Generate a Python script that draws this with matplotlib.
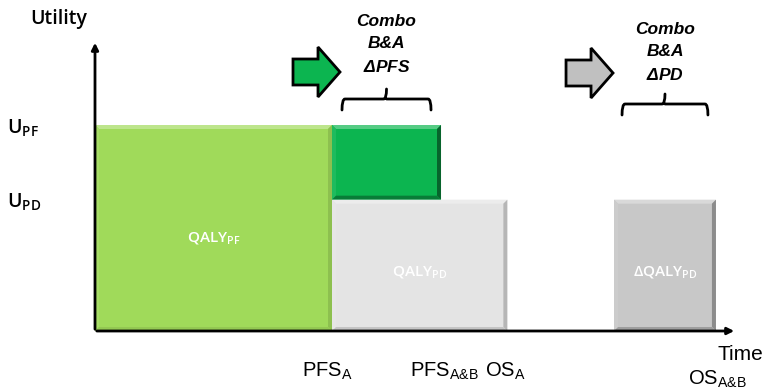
import matplotlib
matplotlib.use('Agg')
import matplotlib.pyplot as plt
from matplotlib.patches import Rectangle, Polygon, PathPatch
from matplotlib.path import Path
from matplotlib.colors import to_rgb

plt.rcParams['mathtext.default'] = 'regular'

# time points (arbitrary units) and utility levels
t_pfs_a = 10.0
t_pfs_ab = 14.6
t_os_a = 17.4
t_delta_start = 21.9
t_os_ab = 26.2
u_pf = 0.80
u_pd = 0.51

# blocks: (x0, x1, base, top, colour, label, label height)
blocks = [
    (0.0, t_pfs_a, 0.0, u_pf, '#a0da5a', r'QALY$_{PF}$', 0.36),
    (t_pfs_a, t_pfs_ab, u_pd, u_pf, '#0cb550', None, None),
    (t_pfs_a, t_os_a, 0.0, u_pd, '#e4e4e4', r'QALY$_{PD}$', 0.23),
    (t_delta_start, t_os_ab, 0.0, u_pd, '#c8c8c8', r'$\Delta$QALY$_{PD}$', 0.23),
]

x_ticks = [t_pfs_a, t_pfs_ab, t_os_a, t_os_ab]
x_tick_labels = [r'PFS$_{A}$', r'PFS$_{A&B}$', r'OS$_{A}$', r'OS$_{A&B}$']
y_ticks = [u_pf, u_pd]
y_tick_labels = [r'U$_{PF}$', r'U$_{PD}$']

# pixel scale of one unit on each axis
kx = 23.7
ky = 257.5

fig = plt.figure(figsize=(7.69, 3.90), dpi=100)
ax = fig.add_axes([0, 0, 1, 1])
ax.set_xlim(-95 / kx, (769 - 95) / kx)
ax.set_ylim(-59 / ky, 331 / ky)
ax.axis('off')


def shade(c, f):
    r, g, b = to_rgb(c)
    if f > 0:
        return (r + (1 - r) * f, g + (1 - g) * f, b + (1 - b) * f)
    return (r * (1 + f), g * (1 + f), b * (1 + f))


def block(x0, x1, y0, y1, color, dark):
    bx = 4 / kx
    by = 4 / ky
    ax.add_patch(Rectangle((x0, y0), x1 - x0, y1 - y0, facecolor=color,
                           edgecolor='none', zorder=2))
    # bevelled edges
    top = [(x0, y1), (x1, y1), (x1 - bx, y1 - by), (x0 + bx, y1 - by)]
    left = [(x0, y0), (x0, y1), (x0 + bx, y1 - by), (x0 + bx, y0 + by)]
    right = [(x1, y0), (x1, y1), (x1 - bx, y1 - by), (x1 - bx, y0 + by)]
    bottom = [(x0, y0), (x1, y0), (x1 - bx, y0 + by), (x0 + bx, y0 + by)]
    for pts, f in [(top, 0.3), (left, 0.08), (right, -dark), (bottom, -dark * 0.7)]:
        ax.add_patch(Polygon(pts, closed=True, facecolor=shade(color, f),
                             edgecolor='none', zorder=3))


darkness = [0.12, 0.45, 0.2, 0.3]
for (x0, x1, y0, y1, col, lab, ly), d in zip(blocks, darkness):
    block(x0, x1, y0, y1, col, d)
    if lab:
        ax.text((x0 + x1) / 2, ly, lab, color='white', fontsize=11,
                family='Open Sans', fontweight='semibold',
                ha='center', va='center', zorder=5)

# axes with arrow heads
ax.annotate('', xy=(0, 291 / ky), xytext=(0, -1 / ky),
            arrowprops=dict(arrowstyle='-|>', color='black', lw=2,
                            mutation_scale=10), zorder=6)
ax.annotate('', xy=(642 / kx, 0), xytext=(-1 / kx, 0),
            arrowprops=dict(arrowstyle='-|>', color='black', lw=2,
                            mutation_scale=10), zorder=6)

ax.text(-65 / kx, 312 / ky, 'Utility', fontsize=14, family='Open Sans',
        fontweight='semibold', ha='left', va='center')
ax.text(t_os_ab + 2 / kx, -23 / ky, 'Time', fontsize=15,
        family='Liberation Sans', ha='left', va='center')

for y, lab in zip(y_ticks, y_tick_labels):
    ax.text(-88 / kx, y - 3 / ky, lab, fontsize=14, family='Open Sans',
            fontweight='semibold', ha='left', va='center')

# tick labels under the time axis, offsets in pixels from each tick
x_label_dx = [-30, -31, -22, -28]
x_label_dy = [-40, -40, -40, -48]
for x, lab, dx, dy in zip(x_ticks, x_tick_labels, x_label_dx, x_label_dy):
    ax.text(x + dx / kx, dy / ky, lab, fontsize=14.5,
            family='Liberation Sans', ha='left', va='center')


def brace(x0, x1, yb, color='black'):
    h = 11 / ky
    tip = 10 / ky
    xm = (x0 + x1) / 2
    r = 3 / kx
    verts = [(x0, yb - h), (x0, yb), (x0 + r, yb),
             (xm - r, yb), (xm, yb), (xm, yb + tip),
             (xm, yb), (xm + r, yb), (x1 - r, yb),
             (x1, yb), (x1, yb - h)]
    codes = [Path.MOVETO, Path.CURVE3, Path.CURVE3,
             Path.LINETO, Path.CURVE3, Path.LINETO,
             Path.MOVETO, Path.CURVE3, Path.LINETO,
             Path.CURVE3, Path.CURVE3]
    ax.add_patch(PathPatch(Path(verts, codes), facecolor='none',
                           edgecolor=color, lw=2, capstyle='round'))


def block_arrow(x_tip, y_mid, color):
    L = 47 / kx
    head = 22 / kx
    bh = 13 / ky
    hh = 25 / ky
    xs = x_tip - L
    pts = [(xs, y_mid - bh), (x_tip - head, y_mid - bh), (x_tip - head, y_mid - hh),
           (x_tip, y_mid), (x_tip - head, y_mid + hh), (x_tip - head, y_mid + bh),
           (xs, y_mid + bh)]
    ax.add_patch(Polygon(pts, closed=True, facecolor=color, edgecolor='black',
                         lw=2, joinstyle='miter'))


# combo annotations above the blocks
brace(t_pfs_a + 10 / kx, t_pfs_ab - 10 / kx, u_pf + 26 / ky)
brace(t_delta_start + 8 / kx, t_os_ab - 8 / kx, u_pf + 21 / ky)
block_arrow(t_pfs_a + 8 / kx, 259 / ky, '#0cb550')
block_arrow(t_delta_start - 1 / kx, 258 / ky, '#c0c0c0')

ax.text((t_pfs_a + t_pfs_ab) / 2, 287 / ky, 'Combo\nB&A\n$\\Delta$PFS',
        fontsize=12.5, family='Liberation Sans', fontweight='bold',
        style='italic', ha='center', va='center', linespacing=1.6)
ax.text((t_delta_start + t_os_ab) / 2, 279 / ky, 'Combo\nB&A\n$\\Delta$PD',
        fontsize=12.5, family='Liberation Sans', fontweight='bold',
        style='italic', ha='center', va='center', linespacing=1.6)

fig.savefig('out.png', dpi=100)
